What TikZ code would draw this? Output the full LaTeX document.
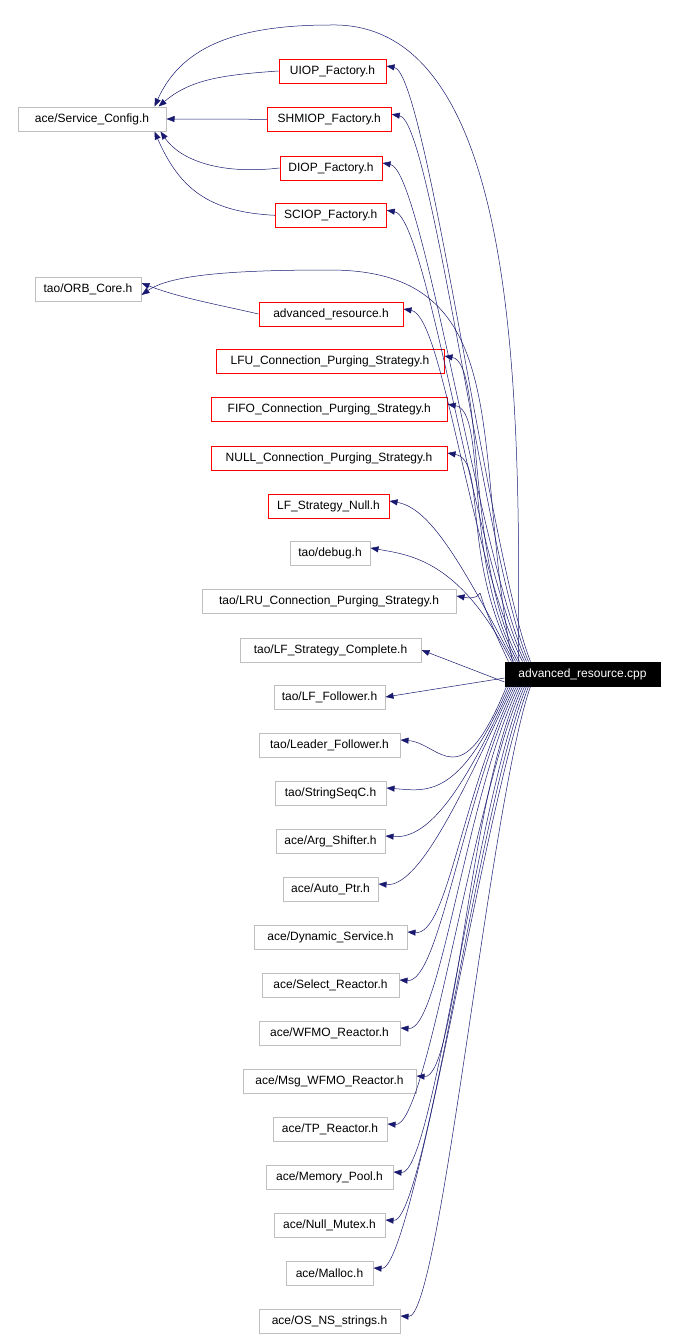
\documentclass[tikz,border=0pt]{standalone}
\usepackage{fontspec}
\setmainfont{Liberation Sans}
\usetikzlibrary{arrows.meta}
\definecolor{edge}{HTML}{191970}
\definecolor{gbox}{HTML}{BFBFBF}
\definecolor{rbox}{HTML}{FF0000}
\begin{document}
\begin{tikzpicture}[x=1pt,y=-1pt,
  base/.style={line width=1pt,inner sep=0pt,minimum height=24pt,font=\fontsize{12}{14}\selectfont,text=black},
  gb/.style={base,draw=gbox},
  rb/.style={base,draw=rbox},
  ed/.style={draw=edge,line width=0.5pt,-{Triangle[length=8pt,width=6pt]}}]
\useasboundingbox (0,0) rectangle (678,1339);
\node[gb,minimum width=148pt] (sc) at (92,119) {ace/Service\_Config.h};
\node[rb,minimum width=107pt] (uiop) at (332.5,71) {UIOP\_Factory.h};
\node[rb,minimum width=124pt] (shm) at (329.3,119.3) {SHMIOP\_Factory.h};
\node[rb,minimum width=102pt] (diop) at (331,168) {DIOP\_Factory.h};
\node[rb,minimum width=111pt] (sciop) at (330.8,215.3) {SCIOP\_Factory.h};
\node[gb,minimum width=106pt] (orb) at (88,289) {tao/ORB\_Core.h};
\node[rb,minimum width=144pt] (arh) at (331,314) {advanced\_resource.h};
\node[rb,minimum width=228pt] (lfu) at (330,361) {LFU\_Connection\_Purging\_Strategy.h};
\node[rb,minimum width=236pt] (fifo) at (329.3,409.3) {FIFO\_Connection\_Purging\_Strategy.h};
\node[rb,minimum width=236pt] (null) at (329,458) {NULL\_Connection\_Purging\_Strategy.h};
\node[rb,minimum width=121pt] (lfsn) at (328.5,506) {LF\_Strategy\_Null.h};
\node[gb,minimum width=80pt] (dbg) at (330,553) {tao/debug.h};
\node[gb,minimum width=254pt] (lru) at (329,601) {tao/LRU\_Connection\_Purging\_Strategy.h};
\node[gb,minimum width=181pt] (lfsc) at (330.5,650) {tao/LF\_Strategy\_Complete.h};
\node[gb,minimum width=111pt] (lff) at (329.5,697) {tao/LF\_Follower.h};
\node[gb,minimum width=141pt] (ldf) at (329.5,745) {tao/Leader\_Follower.h};
\node[gb,minimum width=111pt] (ssq) at (330.5,793) {tao/StringSeqC.h};
\node[gb,minimum width=109pt] (arg) at (330.5,841) {ace/Arg\_Shifter.h};
\node[gb,minimum width=95pt] (aptr) at (330.5,889) {ace/Auto\_Ptr.h};
\node[gb,minimum width=153pt] (dyn) at (330.5,937) {ace/Dynamic\_Service.h};
\node[gb,minimum width=137pt] (sel) at (330.5,985) {ace/Select\_Reactor.h};
\node[gb,minimum width=141pt] (wfmo) at (329.5,1033) {ace/WFMO\_Reactor.h};
\node[gb,minimum width=173pt] (msg) at (329.5,1081) {ace/Msg\_WFMO\_Reactor.h};
\node[gb,minimum width=114pt] (tp) at (330,1129) {ace/TP\_Reactor.h};
\node[gb,minimum width=127pt] (mem) at (329.5,1177) {ace/Memory\_Pool.h};
\node[gb,minimum width=111pt] (nmx) at (329.5,1225) {ace/Null\_Mutex.h};
\node[gb,minimum width=87pt] (mal) at (329.5,1273) {ace/Malloc.h};
\node[gb,minimum width=141pt] (osn) at (329.5,1321) {ace/OS\_NS\_strings.h};
\node[base,draw=black,fill=black,text=white,minimum width=155pt] (cpp) at (582.5,674) {advanced\_resource.cpp};
% factories -> service config
\draw[ed] (uiop.west) .. controls (220,75) and (190,80) .. ([xshift=-8pt]sc.north east);
\draw[ed] (shm.west) -- (sc.east);
\draw[ed] (diop.west) .. controls (220,175) and (180,160) .. ([xshift=-6pt]sc.south east);
\draw[ed] (sciop.west) .. controls (210,212) and (180,190) .. ([xshift=-12pt]sc.south east);
\draw[ed] (arh.west) .. controls (220,305) and (180,298) .. ([yshift=6pt]orb.east);
% cpp -> service config and orb core
\draw[ed] ([xshift=14pt]cpp.north west) .. controls (520,400) and (520,20) .. (330,25) .. controls (230,25) and (180,50) .. ([xshift=-12pt]sc.north east);
\draw[ed] ([xshift=8pt]cpp.north west) .. controls (470,450) and (520,270) .. (330,270) .. controls (230,270) and (170,275) .. ([yshift=-6pt]orb.east);
% cpp -> upper
\foreach \t/\sx/\cx in {uiop/26/490,shm/24/485,diop/22/480,sciop/20/475,arh/18/470,lfu/15/465,fifo/13/462,null/11/460,lfsn/9/460,dbg/7/460,lru/4/460}{
  \draw[ed] ([xshift=\sx pt]cpp.north west) .. controls (\cx,560) and ([xshift=40pt,yshift=-2pt]\t.east) .. ([yshift=5pt]\t.east);
}
\draw[ed] ([yshift=-8pt]cpp.west) -- (lfsc.east);
\draw[ed] ([yshift=-4pt]cpp.west) -- (lff.east);
\foreach \t/\sx/\cx in {ldf/2/460,ssq/4/460,arg/6/460,aptr/8/460,dyn/10/460,sel/12/462,wfmo/14/465,msg/16/468,tp/18/472,mem/20/476,nmx/22/480,mal/24/485,osn/26/490}{
  \draw[ed] ([xshift=\sx pt]cpp.south west) .. controls (\cx,800) and ([xshift=40pt,yshift=2pt]\t.east) .. ([yshift=5pt]\t.east);
}
\end{tikzpicture}
\end{document}
